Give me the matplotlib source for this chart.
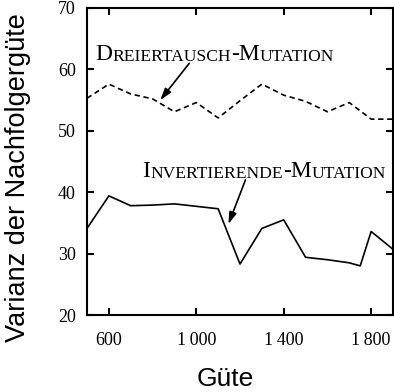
import matplotlib
matplotlib.use("Agg")
import matplotlib.pyplot as plt

# Daten
x_dreier = [500, 600, 700, 800, 900, 1000, 1100, 1200, 1300, 1400, 1500, 1600, 1700, 1800, 1900]
y_dreier = [55.3, 57.6, 56.0, 55.2, 53.1, 54.6, 52.1, 54.9, 57.6, 55.8, 54.8, 53.1, 54.6, 51.9, 51.9]

x_invert = [500, 600, 700, 800, 900, 1000, 1100, 1200, 1300, 1400, 1500, 1600, 1700, 1750, 1800, 1900]
y_invert = [34.1, 39.4, 37.8, 37.9, 38.1, 37.7, 37.3, 28.3, 34.1, 35.5, 29.4, 29.0, 28.5, 28.0, 33.6, 30.7]

xticks = [600, 1000, 1400, 1800]
xticklabels = ["600", "1\u2009000", "1\u2009400", "1\u2009800"]
yticks = [20, 30, 40, 50, 60, 70]

SERIF = ["Liberation Serif", "DejaVu Serif"]
SANS = ["Liberation Sans", "DejaVu Sans"]


def smallcaps(ax, x, y, text, big=17, small=12.6):
    # Kapitälchen: Großbuchstaben groß, Kleinbuchstaben klein in Versalien
    runs = []
    for ch in text:
        is_small = ch.islower()
        if runs and runs[-1][1] == is_small:
            runs[-1][0] += ch
        else:
            runs.append([ch, is_small])
    prev = None
    for s, is_small in runs:
        size = small if is_small else big
        if prev is None:
            prev = ax.text(x, y, s.upper(), fontsize=size, family=SERIF,
                           ha="left", va="bottom")
        else:
            prev = ax.annotate(s.upper(), xy=(1, 0), xycoords=prev,
                               fontsize=size, family=SERIF,
                               ha="left", va="bottom")


fig = plt.figure(figsize=(3.94, 3.92), dpi=100)
ax = fig.add_axes([87 / 394, 1 - 315 / 392, 306 / 394, 307 / 392])

ax.plot(x_dreier, y_dreier, color="black", lw=1.2, linestyle=(0, (3.2, 2.2)))
ax.plot(x_invert, y_invert, color="black", lw=1.2)

ax.set_xlim(500, 1900)
ax.set_ylim(20, 70)
ax.set_xticks(xticks)
ax.set_xticklabels(xticklabels)
ax.set_yticks(yticks)

for sp in ax.spines.values():
    sp.set_linewidth(1.5)
ax.tick_params(direction="in", length=5, width=1.5, top=True, right=True,
               labelsize=13)
ax.tick_params(axis="x", pad=12)
ax.tick_params(axis="y", pad=8)
for lab in ax.get_xticklabels() + ax.get_yticklabels():
    lab.set_family(SERIF)

smallcaps(ax, 540, 60.7, "Dreiertausch-Mutation")
smallcaps(ax, 752, 41.7, "Invertierende-Mutation")

arrow = dict(arrowstyle="-|>,head_length=0.7,head_width=0.22", color="black",
             lw=1.2, shrinkA=0, shrinkB=0)
ax.annotate("", xy=(835, 55.0), xytext=(968, 61.0), arrowprops=arrow)
ax.annotate("", xy=(1147, 34.8), xytext=(1225, 42.0), arrowprops=arrow)

fig.text(18 / 394, 1 - 178 / 392, "Varianz der Nachfolgergüte", rotation=90,
         ha="center", va="center", fontsize=19.5, family=SANS)
fig.text(225 / 394, 1 - 379 / 392, "Güte", ha="center", va="center",
         fontsize=19, family=SANS)

fig.savefig("out.png", dpi=100)
